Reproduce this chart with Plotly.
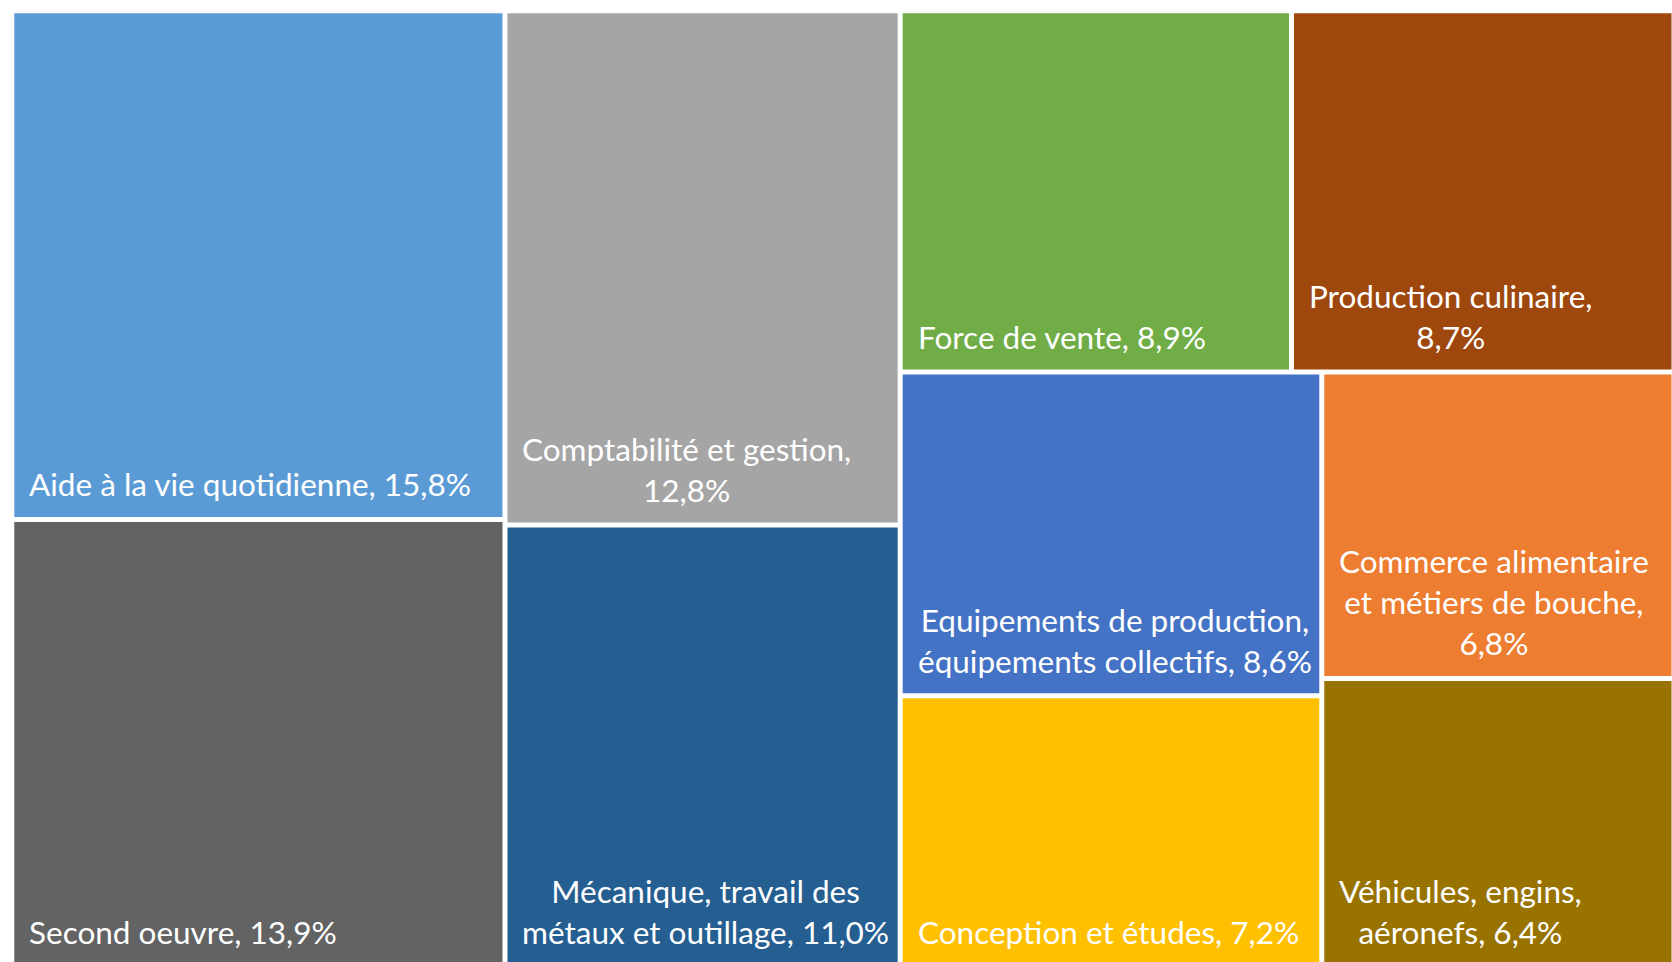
import plotly.graph_objects as go

# ---- data ----
categories = [
    "Aide à la vie quotidienne",
    "Second oeuvre",
    "Comptabilité et gestion",
    "Mécanique, travail des métaux et outillage",
    "Force de vente",
    "Production culinaire",
    "Equipements de production, équipements collectifs",
    "Conception et études",
    "Commerce alimentaire et métiers de bouche",
    "Véhicules, engins, aéronefs",
]
shares = [15.8, 13.9, 12.8, 11.0, 8.9, 8.7, 8.6, 7.2, 6.8, 6.4]
label_formats = [
    "Aide à la vie quotidienne, {}",
    "Second oeuvre, {}",
    "Comptabilité et gestion,<br>{}",
    "Mécanique, travail des<br>métaux et outillage, {}",
    "Force de vente, {}",
    "Production culinaire,<br>{}",
    "Equipements de production,<br>équipements collectifs, {}",
    "Conception et études, {}",
    "Commerce alimentaire<br>et métiers de bouche,<br>{}",
    "Véhicules, engins,<br>aéronefs, {}",
]
colors = ["#5B9BD5", "#636363", "#A5A5A5", "#255E91", "#70AD47",
          "#9E480E", "#4472C4", "#FFC000", "#ED7D31", "#997300"]

# ---- layout constants ----
W, H = 1672, 962
BOX = (11.8, 10.8, 1674.0, 967.0)   # x0, y0, x1, y1 of the whole treemap
GAP = 2.5                            # half white gap between tiles
PAD_X, PAD_Y = 13, 11.5
FONT = "Lato, Calibri, Carlito, sans-serif"
FSIZE = 31.5


def worst(row, side):
    s = sum(row)
    return max(max(side * side * r / (s * s), s * s / (side * side * r)) for r in row)


def squarify(values, x, y, w, h):
    total = sum(values)
    areas = [v * w * h / total for v in values]
    rects = []
    while areas:
        side = min(w, h)
        row = [areas[0]]
        i = 1
        while i < len(areas) and worst(row + [areas[i]], side) <= worst(row, side):
            row.append(areas[i])
            i += 1
        areas = areas[i:]
        s = sum(row)
        if w >= h:
            cw = s / h
            yy = y
            for a in row:
                rh = a / cw
                rects.append((x, yy, x + cw, yy + rh))
                yy += rh
            x += cw
            w -= cw
        else:
            rh = s / w
            xx = x
            for a in row:
                rw = a / rh
                rects.append((xx, y, xx + rw, y + rh))
                xx += rw
            y += rh
            h -= rh
    return rects


order = sorted(range(len(shares)), key=lambda i: -shares[i])
bx0, by0, bx1, by1 = BOX
rects_sorted = squarify([shares[i] for i in order], bx0, by0, bx1 - bx0, by1 - by0)
rects = [None] * len(shares)
for k, i in enumerate(order):
    rects[i] = rects_sorted[k]

fig = go.Figure()
annotations = []
for i, (name, val) in enumerate(zip(categories, shares)):
    x0, y0, x1, y1 = rects[i]
    x0, y0, x1, y1 = x0 + GAP, y0 + GAP, x1 - GAP, y1 - GAP
    fig.add_trace(go.Scatter(
        x=[x0, x1, x1, x0, x0], y=[y0, y0, y1, y1, y0],
        mode="lines", fill="toself", fillcolor=colors[i],
        line=dict(width=0, color=colors[i]),
        name=name, hoverinfo="text",
        text=f"{name}: {val:.1f}%".replace(".", ","),
        showlegend=False,
    ))
    pct = f"{val:.1f}%".replace(".", ",")
    annotations.append(dict(
        x=x0 + PAD_X, y=y1 - PAD_Y, xref="x", yref="y",
        xanchor="left", yanchor="bottom", align="center",
        text=label_formats[i].format(pct), showarrow=False,
        font=dict(family=FONT, size=FSIZE, color="white"),
    ))

fig.update_layout(
    width=W, height=H,
    margin=dict(l=0, r=0, t=0, b=0),
    paper_bgcolor="white", plot_bgcolor="white",
    xaxis=dict(range=[0, W], visible=False, fixedrange=True),
    yaxis=dict(range=[H, 0], visible=False, fixedrange=True),
    annotations=annotations,
    showlegend=False,
)

fig.write_html("out.html", config={"displayModeBar": False},
               post_script="document.body.style.margin='0';")
